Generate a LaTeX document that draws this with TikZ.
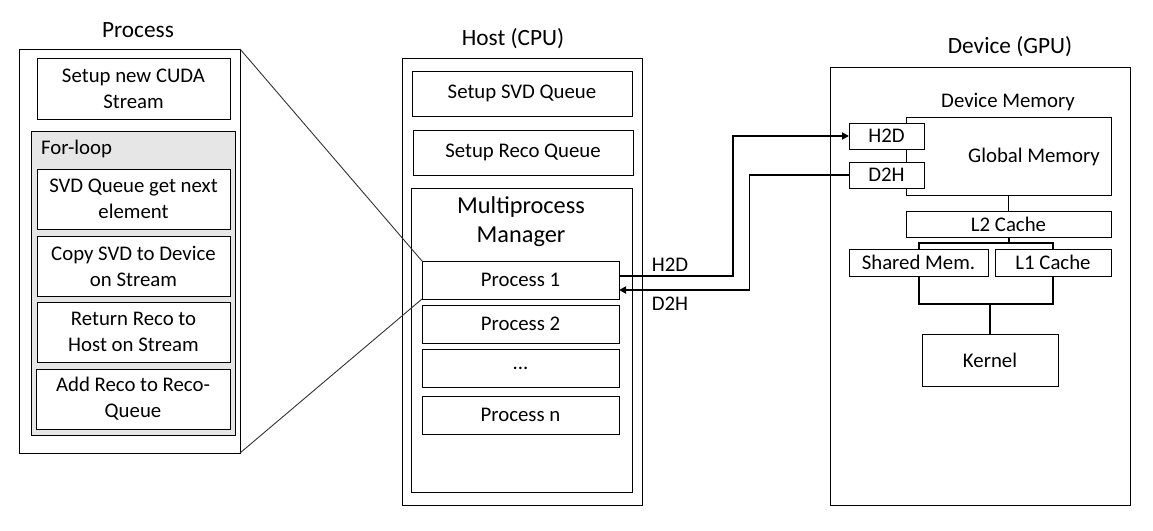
\documentclass[tikz,border=0pt]{standalone}
\usepackage{fontspec}
\setmainfont{Carlito}
\usetikzlibrary{arrows.meta}
\definecolor{loopgray}{HTML}{E6E6E6}
\begin{document}
\begin{tikzpicture}[x=1pt,y=-1pt,
  box/.style={draw=black,line width=1pt,inner sep=0pt,outer sep=0pt,fill=white,
    font=\fontsize{20.8}{26}\selectfont,align=center},
  frame/.style={draw=black,line width=1pt,inner sep=0pt,outer sep=0pt},
  title/.style={font=\fontsize{23.3}{26}\selectfont,inner sep=0pt},
  lbl/.style={font=\fontsize{20.8}{26}\selectfont,inner sep=0pt},
  arr/.style={line width=1.8pt,-{Triangle[length=7pt,width=7pt]}},
  bus/.style={line width=2pt},
  zoomline/.style={draw=black!80,line width=0.9pt}]
\useasboundingbox (0,0) rectangle (1153,530);

% ---------- Process panel ----------
\node[title] (ptitle) at (138,30) {Process};
\node[frame,minimum width=221pt,minimum height=404pt] (proc) at (129.5,251) {};
\node[box,minimum width=193pt,minimum height=61pt] (cuda) at (133.5,88.5) {Setup new CUDA\\Stream};
\node[frame,fill=loopgray,minimum width=204pt,minimum height=304pt] (loop) at (133,283) {};
\node[lbl,anchor=west] (looptxt) at (41,149) {For-loop};
\node[box,minimum width=193pt,minimum height=60pt] (svd) at (133.5,199) {SVD Queue get next\\element};
\node[box,minimum width=193pt,minimum height=60pt] (copy) at (133.5,266) {Copy SVD to Device\\on Stream};
\node[box,minimum width=193pt,minimum height=60pt] (ret) at (133.5,332) {Return Reco to\\Host on Stream};
\node[box,minimum width=194pt,minimum height=60pt] (add) at (133,399) {Add Reco to Reco-\\Queue};

% ---------- Host ----------
\node[title] (htitle) at (513,39) {Host (CPU)};
\node[frame,minimum width=240pt,minimum height=447pt] (host) at (522,281.5) {};
\node[box,minimum width=220pt,minimum height=45pt] (svdq) at (522,93.5) {Setup SVD Queue};
\node[box,minimum width=220pt,minimum height=45pt] (recoq) at (523,152.5) {Setup Reco Queue};
\node[frame,minimum width=221pt,minimum height=304pt] (mpm) at (521.5,340) {};
\node[title,align=center,font=\fontsize{24.3}{29}\selectfont,anchor=north] (mpmtxt) at (521,196) {Multiprocess\\Manager};
\node[box,minimum width=197pt,minimum height=38pt] (p1) at (520.5,280) {Process 1};
\node[box,minimum width=197pt,minimum height=38pt] (p2) at (520.5,324) {Process 2};
\node[box,minimum width=197pt,minimum height=38pt] (pd) at (520.5,368) {...};
\node[box,minimum width=197pt,minimum height=38pt] (pn) at (520.5,415) {Process n};

% zoom lines
\draw[zoomline] (proc.north east) -- (p1.north west);
\draw[zoomline] (proc.south east) -- (p1.south west);

% ---------- Device ----------
\node[title] (dtitle) at (1010,47) {Device (GPU)};
\node[frame,minimum width=300pt,minimum height=438pt] (dev) at (980,286) {};
\node[lbl] (dmtxt) at (1008,102) {Device Memory};
\node[box,minimum width=205pt,minimum height=78pt] (glob) at (1008.5,156) {};
\node[lbl] (gmtxt) at (1034,157) {Global Memory};
\node[box,minimum width=75pt,minimum height=26pt] (h2d) at (886.5,136) {H2D};
\node[box,minimum width=75pt,minimum height=26pt] (d2h) at (886.5,175) {D2H};
\node[box,minimum width=205pt,minimum height=26pt] (l2) at (1008.5,224) {L2 Cache};
\node[box,minimum width=139pt,minimum height=27pt] (shm) at (918.5,262.5) {Shared Mem.};
\node[box,minimum width=116pt,minimum height=27pt] (l1) at (1053,262.5) {L1 Cache};
\node[box,minimum width=136pt,minimum height=52pt] (kern) at (990,360) {Kernel};

\coordinate (busA) at (1008.5,243);
\coordinate (busB) at (990,304);
\draw[line width=1.5pt] (glob.south) -- (l2.north);
\draw[bus] (l2.south) -- (busA);
\draw[bus] (shm.north) |- (busA) -| (l1.north);
\draw[bus] (shm.south) |- (busB) -| (l1.south);
\draw[bus] (busB) -- (kern.north);

% ---------- transfers ----------
\draw[arr] ([yshift=4pt]p1.east) -- ++(114,0) |- (h2d.west);
\draw[arr] (d2h.west) -- ++(-99.5,0) |- ([yshift=-10pt]p1.east);
\node[lbl] (h2dlbl) at (670,265) {H2D};
\node[lbl] (d2hlbl) at (670,304) {D2H};
\end{tikzpicture}
\end{document}
